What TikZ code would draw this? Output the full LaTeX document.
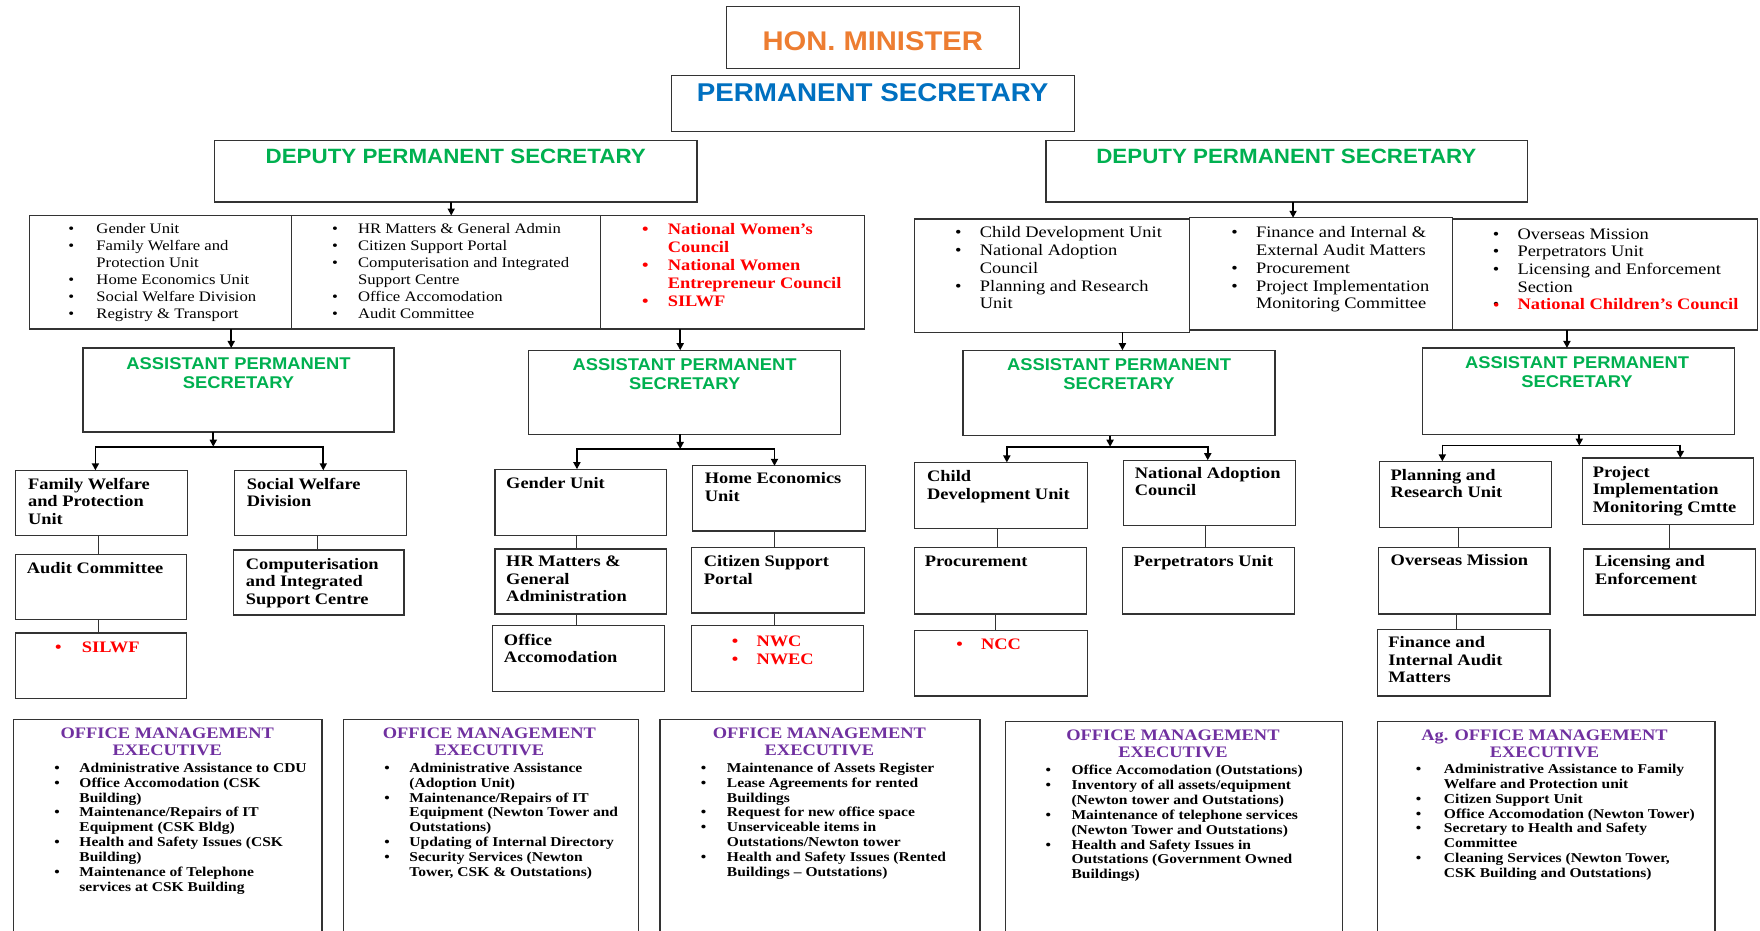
\documentclass[tikz,border=0pt]{standalone}
\usepackage{fontspec}
\setmainfont[FakeStretch=1.15]{Liberation Serif}
\newfontfamily\hel[FakeStretch=1.08]{Liberation Sans}
\usetikzlibrary{arrows.meta}
\definecolor{cOr}{HTML}{ED7D31}
\definecolor{cBl}{HTML}{0070C0}
\definecolor{cGr}{HTML}{00B050}
\definecolor{cRd}{HTML}{FF0000}
\definecolor{cPu}{HTML}{7030A0}
\newcommand\fsz[2]{\fontsize{#1}{#2}\selectfont}
\newcommand\bx[5]{\node[bx, minimum width={(#4-#2)*1.1224pt}, minimum height={(#5-#3)*1.1224pt}] (#1) at ({(#2+#4)/2},{(#3+#5)/2}) {};}
\newcommand\tx[5]{\node[anchor=#4, inner sep=0pt, outer sep=0pt] (#1) at (#2,#3) {#5};}
\newcommand\bl[1]{\textbullet&#1\\}
\newcommand\cl[1]{&#1\\}
\newcommand\blist[2]{\begin{tabular}[t]{@{}p{#1pt}@{}l@{}}#2\end{tabular}}
\newcommand\clist[1]{\begin{tabular}[t]{@{}c@{}}#1\end{tabular}}
\newcommand\llist[1]{\begin{tabular}[t]{@{}l@{}}#1\end{tabular}}
\tikzset{
  bx/.style={draw=black!80, line width=1.3pt, rectangle, inner sep=0pt, outer sep=0pt, fill=none},
  arr/.style={line width=1.7pt, -{Triangle[length=7pt,width=7pt]}},
  lnk/.style={line width=1.7pt},
  thinlnk/.style={line width=1pt, black!80},
  unit/.style={},
}
\begin{document}
\begin{tikzpicture}[x=1.1224pt, y=-1.1224pt]
\useasboundingbox (0,0) rectangle (1568,829);
\clip (0,0) rectangle (1568,829);
\fill[white] (0,0) rectangle (1568,829);

% ---------- top ----------
\bx{hon}{647}{6}{908}{61}
\tx{thon}{777.5}{45}{base}{\hel\bfseries\fsz{27}{30}\color{cOr}HON. MINISTER}
\bx{ps}{598}{67}{957}{117}
\tx{tps}{777.5}{90}{base}{\hel\bfseries\fsz{25.7}{29}\color{cBl}PERMANENT SECRETARY}
\bx{dps1}{191}{125}{621}{180}
\tx{tdps1}{406}{146}{base}{\hel\bfseries\fsz{20.7}{24}\color{cGr}DEPUTY PERMANENT SECRETARY}
\bx{dps2}{932}{125}{1361}{180}
\tx{tdps2}{1146}{146}{base}{\hel\bfseries\fsz{20.7}{24}\color{cGr}DEPUTY PERMANENT SECRETARY}

% ---------- list boxes ----------
\bx{lA}{26}{192}{260}{293}
\bx{lB}{260}{192}{535}{293}
\bx{lC}{535}{192}{770}{293}
\tx{tA}{61}{208}{base west}{\fsz{14.5}{17}\blist{28}{\bl{Gender Unit}\bl{Family Welfare and}\cl{Protection Unit}\bl{Home Economics Unit}\bl{Social Welfare Division}\bl{Registry \& Transport}}}
\tx{tB}{296}{208}{base west}{\fsz{14.5}{17}\blist{25.8}{\bl{HR Matters \& General Admin}\bl{Citizen Support Portal}\bl{Computerisation and Integrated}\cl{Support Centre}\bl{Office Accomodation}\bl{Audit Committee}}}
\tx{tC}{572}{209}{base west}{\fsz{16}{18}\bfseries\color{cRd}\blist{25.8}{\bl{National Women’s}\cl{Council}\bl{National Women}\cl{Entrepreneur Council}\bl{SILWF}}}

\bx{lD}{815}{195}{1060}{296}
\bx{lE}{1060}{194}{1294}{294}
\bx{lF}{1294}{195}{1566}{294}
\tx{tD}{851}{212}{base west}{\fsz{16}{17.7}\blist{24.7}{\bl{Child Development Unit}\bl{National Adoption}\cl{Council}\bl{Planning and Research}\cl{Unit}}}
\tx{tE}{1097}{212}{base west}{\fsz{16}{17.7}\blist{24.7}{\bl{Finance and Internal \&}\cl{External Audit Matters}\bl{Procurement}\bl{Project Implementation}\cl{Monitoring Committee}}}
\tx{tF}{1330}{213}{base west}{\fsz{16}{17.7}\blist{24.7}{\bl{Overseas Mission}\bl{Perpetrators Unit}\bl{Licensing and Enforcement}\cl{Section}\bl{\color{cRd}\bfseries National Children’s Council}}}
\node[anchor=base west, inner sep=0pt, text=cRd] (tFb) at (1330,277) {\fsz{16}{17.7}\textbullet};

\draw[arr] (402,0 |- dps1.south) -- (402,0 |- lB.north);
\draw[arr] (1152,0 |- dps2.south) -- (1152,0 |- lE.north);

% ---------- APS ----------
\bx{aps1}{74}{310}{351}{385}
\bx{aps2}{471}{312}{749}{387}
\bx{aps3}{858}{312}{1136}{388}
\bx{aps4}{1267}{310}{1545}{387}
\tx{taps1}{212.5}{329}{base}{\hel\bfseries\fsz{17}{19}\color{cGr}\clist{ASSISTANT PERMANENT\\SECRETARY}}
\tx{taps2}{610}{330}{base}{\hel\bfseries\fsz{17}{19}\color{cGr}\clist{ASSISTANT PERMANENT\\SECRETARY}}
\tx{taps3}{997}{330}{base}{\hel\bfseries\fsz{17}{19}\color{cGr}\clist{ASSISTANT PERMANENT\\SECRETARY}}
\tx{taps4}{1405}{328}{base}{\hel\bfseries\fsz{17}{19}\color{cGr}\clist{ASSISTANT PERMANENT\\SECRETARY}}

\draw[arr] (206,0 |- lA.south) -- (206,0 |- aps1.north);
\draw[arr] (606,0 |- lC.south) -- (606,0 |- aps2.north);
\draw[arr] (1000,0 |- lD.south) -- (1000,0 |- aps3.north);
\draw[arr] (1396,0 |- lF.south) -- (1396,0 |- aps4.north);

% ---------- units under APS1 ----------
\bx{fw}{14}{419}{167}{477}
\bx{sw}{209}{419}{362}{477}
\bx{ac}{14}{494}{166}{552}
\bx{cis}{208}{490}{360}{548}
\bx{sil}{14}{564}{166}{622}
\tx{tfw}{25}{436}{base west}{\fsz{16}{17.5}\bfseries\llist{Family Welfare\\and Protection\\Unit}}
\tx{tsw}{220}{436}{base west}{\fsz{16}{17.5}\bfseries\llist{Social Welfare\\Division}}
\tx{tac}{24}{511}{base west}{\fsz{16}{17.5}\bfseries Audit Committee}
\tx{tcis}{219}{507}{base west}{\fsz{16}{17.5}\bfseries\llist{Computerisation\\and Integrated\\Support Centre}}
\tx{tsil}{49}{581}{base west}{\fsz{16}{17.5}\bfseries\color{cRd}\blist{27}{\bl{SILWF}}}

\coordinate (j1) at (190,398);
\draw[arr] (190,0 |- aps1.south) -- (j1);
\draw[lnk] (85,398) -- (288,398);
\draw[arr] (85,397.2) -- (85,0 |- fw.north);
\draw[arr] (288,397.2) -- (288,0 |- sw.north);
\draw[thinlnk] (88,0 |- fw.south) -- (88,0 |- ac.north);
\draw[thinlnk] (283,0 |- sw.south) -- (283,0 |- cis.north);
\draw[thinlnk] (88,0 |- ac.south) -- (88,0 |- sil.north);

% ---------- units under APS2 ----------
\bx{gu}{441}{418}{594}{477}
\bx{he}{617}{415}{771}{473}
\bx{hr}{441}{489}{594}{547}
\bx{csp}{616}{488}{770}{546}
\bx{oa}{439}{557}{592}{616}
\bx{nw}{616}{557}{769}{616}
\tx{tgu}{451}{435}{base west}{\fsz{16}{17.5}\bfseries Gender Unit}
\tx{the}{628}{431}{base west}{\fsz{16}{17.5}\bfseries\llist{Home Economics\\Unit}}
\tx{thr}{451}{505}{base west}{\fsz{16}{17.5}\bfseries\llist{HR Matters \&\\General\\Administration}}
\tx{tcsp}{627}{505}{base west}{\fsz{16}{17.5}\bfseries\llist{Citizen Support\\Portal}}
\tx{toa}{449}{575}{base west}{\fsz{16}{17.5}\bfseries\llist{Office\\Accomodation}}
\tx{tnw}{652}{576}{base west}{\fsz{16}{17.5}\bfseries\color{cRd}\blist{24.7}{\bl{NWC}\bl{NWEC}}}

\coordinate (j2) at (606,400);
\draw[arr] (606,0 |- aps2.south) -- (j2);
\draw[lnk] (514,400) -- (690,400);
\draw[arr] (514,399.2) -- (514,0 |- gu.north);
\draw[arr] (690,399.2) -- (690,0 |- he.north);
\draw[thinlnk] (514,0 |- gu.south) -- (514,0 |- hr.north);
\draw[thinlnk] (690,0 |- he.south) -- (690,0 |- csp.north);
\draw[thinlnk] (514,0 |- hr.south) -- (514,0 |- oa.north);
\draw[thinlnk] (690,0 |- csp.south) -- (690,0 |- nw.north);

% ---------- units under APS3 ----------
\bx{cd}{815}{412}{969}{471}
\bx{nac}{1001}{410}{1154}{468}
\bx{pr}{815}{488}{968}{547}
\bx{pu}{1000}{488}{1153}{547}
\bx{ncc}{815}{562}{969}{620}
\tx{tcd}{826}{429}{base west}{\fsz{16}{17.5}\bfseries\llist{Child\\Development Unit}}
\tx{tnac}{1011}{426}{base west}{\fsz{16}{17.5}\bfseries\llist{National Adoption\\Council}}
\tx{tpr}{824}{505}{base west}{\fsz{16}{17.5}\bfseries Procurement}
\tx{tpu}{1010}{505}{base west}{\fsz{16}{17.5}\bfseries Perpetrators Unit}
\tx{tncc}{852}{579}{base west}{\fsz{16}{17.5}\bfseries\color{cRd}\blist{24.7}{\bl{NCC}}}

\coordinate (j3) at (989,398);
\draw[arr] (989,0 |- aps3.south) -- (j3);
\draw[lnk] (897,398) -- (1076,398);
\draw[arr] (897,397.2) -- (897,0 |- cd.north);
\draw[arr] (1076,397.2) -- (1076,0 |- nac.north);
\draw[thinlnk] (889,0 |- cd.south) -- (889,0 |- pr.north);
\draw[thinlnk] (1074,0 |- nac.south) -- (1074,0 |- pu.north);
\draw[thinlnk] (887,0 |- pr.south) -- (887,0 |- ncc.north);

% ---------- units under APS4 ----------
\bx{prs}{1229}{411}{1382}{470}
\bx{pim}{1410}{408}{1562}{467}
\bx{om}{1228}{488}{1381}{547}
\bx{le}{1411}{489}{1564}{548}
\bx{fia}{1227}{561}{1381}{620}
\tx{tprs}{1239}{428}{base west}{\fsz{16}{17.5}\bfseries\llist{Planning and\\Research Unit}}
\tx{tpim}{1419}{425}{base west}{\fsz{16}{17.5}\bfseries\llist{Project\\Implementation\\Monitoring Cmtte}}
\tx{tom}{1239}{504}{base west}{\fsz{16}{17.5}\bfseries Overseas Mission}
\tx{tle}{1421}{505}{base west}{\fsz{16}{17.5}\bfseries\llist{Licensing and\\Enforcement}}
\tx{tfia}{1237}{577}{base west}{\fsz{16}{17.5}\bfseries\llist{Finance and\\Internal Audit\\Matters}}

\coordinate (j4) at (1407,397);
\draw[arr] (1407,0 |- aps4.south) -- (j4);
\draw[lnk] (1285,397) -- (1497,397);
\draw[arr] (1285,396.2) -- (1285,0 |- prs.north);
\draw[arr] (1497,396.2) -- (1497,0 |- pim.north);
\draw[thinlnk] (1299,0 |- prs.south) -- (1299,0 |- om.north);
\draw[thinlnk] (1487,0 |- pim.south) -- (1487,0 |- le.north);
\draw[thinlnk] (1298,0 |- om.south) -- (1298,0 |- fia.north);

% ---------- OME boxes ----------
\bx{ome1}{12}{641}{287}{840}
\bx{ome2}{306}{641}{569}{840}
\bx{ome3}{588}{641}{873}{840}
\bx{ome4}{896}{643}{1196}{840}
\bx{ome5}{1227}{643}{1528}{840}

\tx{home1}{149}{658}{base}{\fsz{16}{16.8}\bfseries\color{cPu}\clist{OFFICE MANAGEMENT\\EXECUTIVE}}
\tx{home2}{436}{658}{base}{\fsz{16}{16.8}\bfseries\color{cPu}\clist{OFFICE MANAGEMENT\\EXECUTIVE}}
\tx{home3}{730}{658}{base}{\fsz{16}{16.8}\bfseries\color{cPu}\clist{OFFICE MANAGEMENT\\EXECUTIVE}}
\tx{home4}{1045}{660}{base}{\fsz{16}{16.8}\bfseries\color{cPu}\clist{OFFICE MANAGEMENT\\EXECUTIVE}}
\tx{home5}{1376}{660}{base}{\fsz{16}{16.8}\bfseries\color{cPu}\clist{Ag. OFFICE MANAGEMENT\\EXECUTIVE}}

\tx{tome1}{48.5}{688}{base west}{\fsz{13.5}{14.9}\bfseries\blist{25}{\bl{Administrative Assistance to CDU}\bl{Office Accomodation (CSK}\cl{Building)}\bl{Maintenance/Repairs of IT}\cl{Equipment (CSK Bldg)}\bl{Health and Safety Issues (CSK}\cl{Building)}\bl{Maintenance of Telephone}\cl{services at CSK Building}}}
\tx{tome2}{342.5}{688}{base west}{\fsz{13.5}{14.9}\bfseries\blist{25}{\bl{Administrative Assistance}\cl{(Adoption Unit)}\bl{Maintenance/Repairs of IT}\cl{Equipment (Newton Tower and}\cl{Outstations)}\bl{Updating of Internal Directory}\bl{Security Services (Newton}\cl{Tower, CSK \& Outstations)}}}
\tx{tome3}{624.5}{688}{base west}{\fsz{13.5}{14.9}\bfseries\blist{26}{\bl{Maintenance of Assets Register}\bl{Lease Agreements for rented}\cl{Buildings}\bl{Request for new office space}\bl{Unserviceable items in}\cl{Outstations/Newton tower}\bl{Health and Safety Issues (Rented}\cl{Buildings – Outstations)}}}
\tx{tome4}{931.5}{690}{base west}{\fsz{13.5}{14.9}\bfseries\blist{26}{\bl{Office Accomodation (Outstations)}\bl{Inventory of all assets/equipment}\cl{(Newton tower and Outstations)}\bl{Maintenance of telephone services}\cl{(Newton Tower and Outstations)}\bl{Health and Safety Issues in}\cl{Outstations (Government Owned}\cl{Buildings)}}}
\tx{tome5}{1261.5}{689}{base west}{\fsz{13.5}{14.9}\bfseries\blist{28}{\bl{Administrative Assistance to Family}\cl{Welfare and Protection unit}\bl{Citizen Support Unit}\bl{Office Accomodation (Newton Tower)}\bl{Secretary to Health and Safety}\cl{Committee}\bl{Cleaning Services (Newton Tower,}\cl{CSK Building and Outstations)}}}
\end{tikzpicture}
\end{document}
